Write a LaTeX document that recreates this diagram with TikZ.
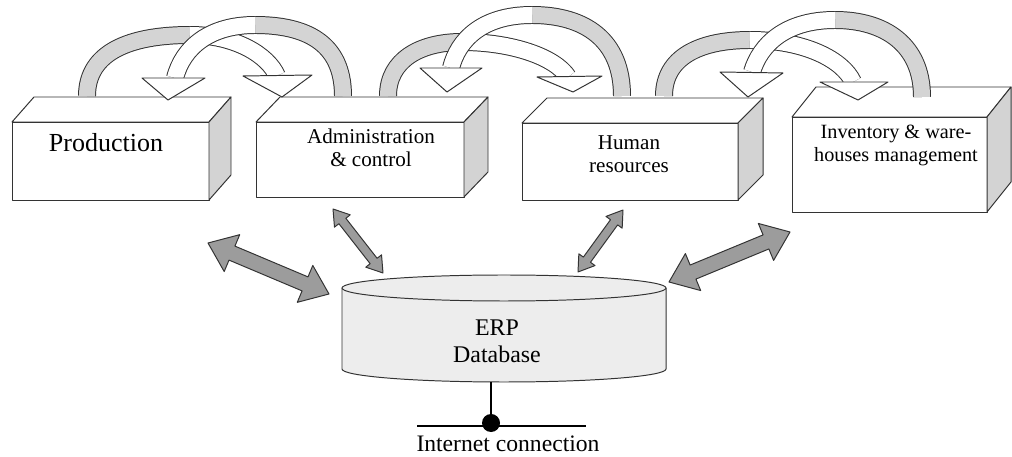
\documentclass[tikz,border=0pt]{standalone}
\usepackage{fontspec}
\setmainfont{Liberation Serif}
\usetikzlibrary{calc,fit}
\definecolor{edge}{HTML}{333333}
\definecolor{sideg}{HTML}{D3D3D3}
\definecolor{bandg}{HTML}{D4D4D4}
\definecolor{dbg}{HTML}{EDEDED}
\definecolor{dag}{HTML}{9C9C9C}
\newcommand\dblarr[5]{%
 \draw[dbl] (#1) -- ($(#1)!#5!(#2)!#4!90:(#2)$) -- ($(#1)!#5!(#2)!#3!90:(#2)$)
   -- ($(#2)!#5!(#1)!#3!-90:(#1)$) -- ($(#2)!#5!(#1)!#4!-90:(#1)$) -- (#2)
   -- ($(#2)!#5!(#1)!#4!90:(#1)$) -- ($(#2)!#5!(#1)!#3!90:(#1)$)
   -- ($(#1)!#5!(#2)!#3!-90:(#2)$) -- ($(#1)!#5!(#2)!#4!-90:(#2)$) -- cycle;}
\begin{document}
\begin{tikzpicture}[x=0.025cm,y=-0.025cm, line join=round,
 face/.style={draw=edge, line width=0.7pt, fill=white, inner sep=0pt, outer sep=0pt},
 side/.style={draw=edge, line width=0.7pt, fill=sideg},
 bandgray/.style={draw=edge, line width=0.7pt, double=bandg, double distance=0.4cm},
 bandwhite/.style={draw=edge, line width=0.7pt, double=white, double distance=0.4cm},
 head/.style={draw=edge, line width=0.7pt, fill=white},
 dbl/.style={draw=edge, line width=0.7pt, fill=dag},
 lbl/.style={font=\fontsize{15}{17}\selectfont, align=center, anchor=base}]
\useasboundingbox (0,0) rectangle (1012,457);

% boxes
\node[face, fit={(12,122)(209,200)}] (prod) {};
\draw[face] (prod.north west) -- ++(22,-25) -- ++(197,0) -- (prod.north east) -- cycle;
\draw[side] (prod.north east) -- ++(22,-25) -- ++(0,78) -- (prod.south east) -- cycle;

\node[face, fit={(256,122)(464,197)}] (adm) {};
\draw[face] (adm.north west) -- ++(24,-25) -- ++(208,0) -- (adm.north east) -- cycle;
\draw[side] (adm.north east) -- ++(24,-25) -- ++(0,75) -- (adm.south east) -- cycle;

\node[face, fit={(522,123)(738,200)}] (hum) {};
\draw[face] (hum.north west) -- ++(25,-25) -- ++(216,0) -- (hum.north east) -- cycle;
\draw[side] (hum.north east) -- ++(25,-25) -- ++(0,77) -- (hum.south east) -- cycle;

\node[face, fit={(792,117)(987,212)}] (inv) {};
\draw[face] (inv.north west) -- ++(24,-30) -- ++(195,0) -- (inv.north east) -- cycle;
\draw[side] (inv.north east) -- ++(24,-30) -- ++(0,95) -- (inv.south east) -- cycle;

% curved ribbon arrows
\draw[bandgray] (87,96) .. controls (87,52) and (130,35) .. (190,35);
\draw[bandwhite] (190,35) .. controls (235,35) and (268,55) .. (277,76);
\draw[head] (243,76) -- (312,75) -- (282,97) -- cycle;

\draw[bandgray] (343,96) .. controls (343,42) and (305,25) .. (255,25);
\draw[bandwhite] (255,25) .. controls (210,25) and (183,47) .. (175,78);
\draw[head] (142,78) -- (205,78) -- (168,100) -- cycle;

\draw[bandgray] (388,96) .. controls (388,60) and (420,42) .. (462,42);
\draw[bandwhite] (462,42) .. controls (512,42) and (555,57) .. (568,77);
\draw[head] (537,77) -- (602,76) -- (573,92) -- cycle;

\draw[bandgray] (622,96) .. controls (622,40) and (585,15) .. (532,15);
\draw[bandwhite] (532,15) .. controls (482,15) and (458,40) .. (451,68);
\draw[head] (420,68) -- (482,68) -- (447,92) -- cycle;

\draw[bandgray] (664,96) .. controls (664,57) and (700,40) .. (750,40);
\draw[bandwhite] (750,40) .. controls (805,40) and (843,60) .. (853,82);
\draw[head] (820,82) -- (888,82) -- (858,100) -- cycle;

\draw[bandgray] (922,97) .. controls (922,45) and (885,20) .. (835,20);
\draw[bandwhite] (835,20) .. controls (785,20) and (760,45) .. (752,72);
\draw[head] (720,72) -- (783,73) -- (748,97) -- cycle;

% database cylinder
\path[fill=dbg, draw=edge, line width=0.7pt] (342,288) -- (342,369)
  arc[start angle=180, end angle=0, x radius=162, y radius=13] -- (666,288);
\draw[fill=dbg, draw=edge, line width=0.7pt] (504,288) ellipse [x radius=162, y radius=13];

% double arrows
\coordinate (a1) at (208,243); \coordinate (b1) at (329,294);
\coordinate (a2) at (333,209); \coordinate (b2) at (383,273);
\coordinate (a3) at (623,210); \coordinate (b3) at (578,272);
\coordinate (a4) at (790,232); \coordinate (b4) at (669,282);
\dblarr{a1}{b1}{0.19cm}{0.5cm}{0.65cm}
\dblarr{a2}{b2}{0.11cm}{0.25cm}{0.38cm}
\dblarr{a3}{b3}{0.11cm}{0.25cm}{0.38cm}
\dblarr{a4}{b4}{0.19cm}{0.5cm}{0.65cm}

% texts (base anchor = baseline of last line)
\node[font=\fontsize{18.5}{22}\selectfont, anchor=base] (tprod) at (106,152) {Production};
\node[lbl] (tadm) at (371,167) {Administration\\\& control};
\node[lbl, font=\fontsize{15}{16.4}\selectfont] (thum) at (629,173) {Human\\resources};
\node[lbl, font=\fontsize{14.4}{17}\selectfont] (tinv) at (896,162) {Inventory \& ware-\\houses management};
\node[font=\fontsize{17}{19.2}\selectfont, align=center, anchor=base] (db) at (497,363) {ERP\\Database};

% internet connection
\coordinate (dbb) at (491,382);
\coordinate (nl) at (417,426);
\coordinate (nr) at (586,426);
\draw[line width=0.8pt] (dbb) -- (491,423);
\draw[line width=0.8pt] (nl) -- (nr);
\node[circle, fill=black, inner sep=0pt, minimum size=0.45cm] (dot) at (491,423) {};
\node[font=\fontsize{16.8}{20}\selectfont, anchor=base] (inet) at (508,452) {Internet connection};
\end{tikzpicture}
\end{document}
